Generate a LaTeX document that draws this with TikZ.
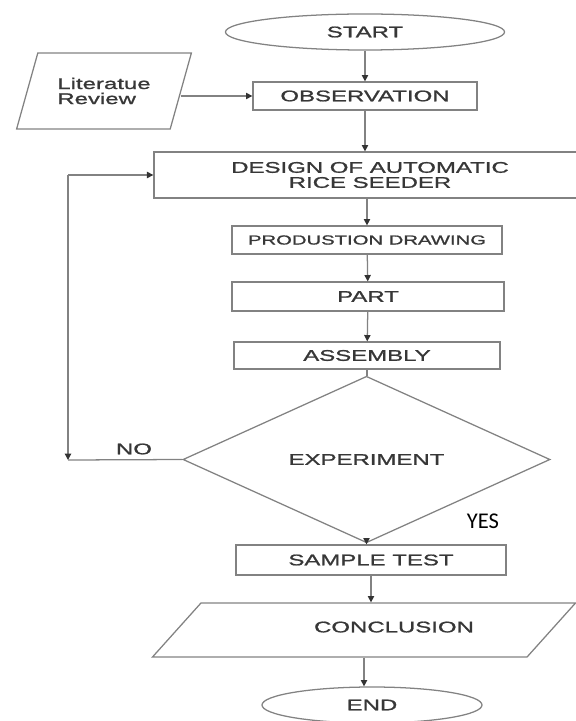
\documentclass[tikz,border=0pt]{standalone}
\usepackage{fontspec}
\setmainfont{Liberation Sans}[FakeStretch=1.55, FakeBold=1.2]
\newfontfamily\yesfont{Carlito}
\usetikzlibrary{shapes.geometric,arrows.meta}
\definecolor{linegray}{RGB}{130,130,130}
\definecolor{textgray}{RGB}{55,55,55}

\begin{document}
\begin{tikzpicture}[x=0.025cm, y=-0.025cm, font=\fontsize{11}{10.7}\selectfont, text=textgray,
  every node/.style={inner sep=0pt},
  box/.style={draw=linegray, line width=0.9pt, rectangle},
  terminal/.style={draw=linegray, line width=0.9pt, ellipse},
  decision/.style={draw=linegray, line width=0.9pt, diamond},
  io/.style={draw=linegray, line width=0.9pt, trapezium, trapezium stretches=true},
  line/.style={draw=linegray, line width=0.9pt},
  flow/.style={line, -{Triangle[length=4.5pt,width=4.5pt,color=black!80]}}]
\useasboundingbox (0,0) rectangle (576,721);
\node[terminal, minimum width=6.975cm, minimum height=0.9cm] (start) at (365,32) {START};
\node[io, trapezium left angle=60.5, trapezium right angle=119.5, minimum width=4.375cm, minimum height=1.9cm, align=left] (lit) at (104,91) {Literatue\\Review};
\node[box, minimum width=5.6cm, minimum height=0.7cm] (obs) at (365,96) {OBSERVATION};
\node[box, minimum width=10.8cm, minimum height=1.15cm, align=center] (design) at (370,175) {DESIGN OF AUTOMATIC\\RICE SEEDER};
\node[box, minimum width=6.75cm, minimum height=0.7cm, font=\fontsize{9.3}{10}\selectfont] (prod) at (367,240) {PRODUSTION DRAWING};
\node[box, minimum width=6.8cm, minimum height=0.725cm] (part) at (368,296.5) {PART};
\node[box, minimum width=6.65cm, minimum height=0.675cm] (assem) at (367,355.5) {ASSEMBLY};
\node[decision, minimum width=9.175cm, minimum height=2.875cm] (exp) at (366.5,459.5) {EXPERIMENT};
\node[box, minimum width=6.75cm, minimum height=0.75cm] (sample) at (371,560) {SAMPLE TEST};
\node[io, trapezium left angle=27.2, trapezium right angle=152.8, minimum width=10.575cm, minimum height=1.35cm] (concl) at (364,630) {\raisebox{0.15cm}{\hspace*{1.5cm}CONCLUSION}};
\node[terminal, minimum width=5.5cm, minimum height=0.9cm] (end) at (372,705) {END};
\node (no) at (134,449) {NO};
\node[text=black, font=\yesfont\fontsize{16}{16}\selectfont] (yes) at (483,521) {YES};
\coordinate (loopT) at (68,175);
\coordinate (loopB) at (68,460);

\draw[flow] (start) -- (obs);
\draw[flow] (lit.east |- obs.west) -- (obs.west);
\draw[flow] (obs.south) -- (obs.south |- design.north);
\draw[flow] (prod.north |- design.south) -- (prod.north);
\draw[flow] (prod) -- (part);
\draw[flow] (part) -- (assem);
\draw[line] (assem.south) -- (assem.south |- exp.north);
\draw[flow] (exp.south) -- (exp.south |- sample.north);
\draw[flow] (sample.south) -- (sample.south |- concl.north);
\draw[flow] (concl.south) -- (concl.south |- end.north);
\draw[line] (exp.west) -- (loopB);
\draw[flow] (loopT) -- (loopB);
\draw[flow] (loopT) -- (design.west);
\end{tikzpicture}
\end{document}
